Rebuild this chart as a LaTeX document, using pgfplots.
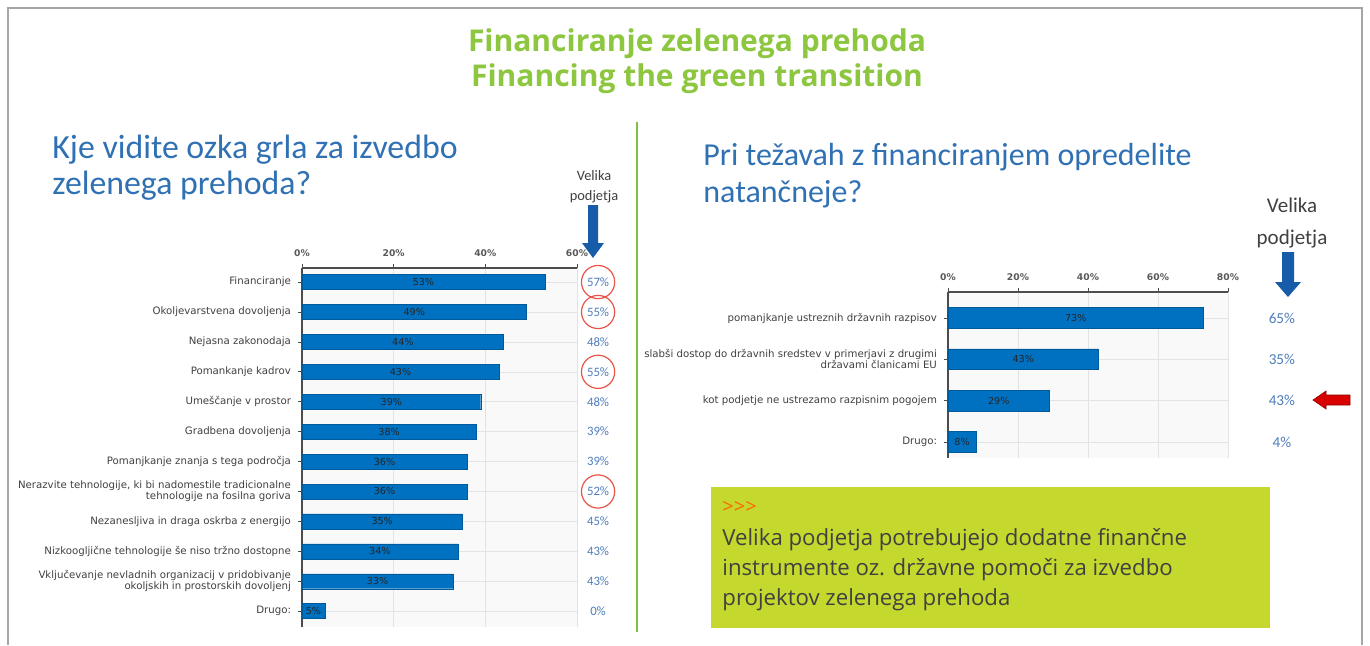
\documentclass[border=0pt]{standalone}
\usepackage{fontspec}
\setmainfont{Open Sans}
\newfontfamily\carl{Carlito}
\newfontfamily\dv{DejaVu Sans}
\usepackage{pgfplots}
\usepackage{pgfplotstable}
\pgfplotsset{compat=1.18}
\pgfplotsset{/pgf/number format/assume math mode=true}

\definecolor{barblue}{RGB}{0,112,192}
\definecolor{titlegreen}{RGB}{141,198,63}
\definecolor{qblue}{RGB}{48,113,180}
\definecolor{vpblue}{RGB}{79,126,187}
\definecolor{circred}{RGB}{232,84,72}
\definecolor{arrblue}{RGB}{22,92,168}
\definecolor{boxgreen}{RGB}{196,216,46}
\definecolor{divgreen}{RGB}{125,194,66}
\definecolor{labgray}{RGB}{64,64,64}

% left chart: pos (11 = top), share, large companies
\pgfplotstableread{
pos v big
11 53 57
10 49 55
9 44 48
8 43 55
7 39 48
6 38 39
5 36 39
4 36 52
3 35 45
2 34 43
1 33 43
0 5 0
}\lefttab

% right chart
\pgfplotstableread{
pos v big
3 73 65
2 43 35
1 29 43
0 8 4
}\righttab

\pgfplotsset{
  slide/.style={
    scale only axis, anchor=north west, clip=false,
    axis x line*=top, axis y line*=left,
    xticklabel={\pgfmathprintnumber{\tick}\%},
    xmajorgrids, ymajorgrids,
    grid style={gray!22, line width=0.3pt},
    axis line style={draw=gray!60!black, line width=0.7pt},
    tick style={draw=gray!60!black, line width=0.4pt},
    tick align=outside, major tick length=2pt,
    axis background/.style={fill=gray!5},
    ticklabel style={font=\dv\fontsize{5.1}{5.6}\selectfont, text=labgray},
    yticklabel style={align=right},
    xticklabel style={font=\dv\bfseries\fontsize{4.6}{5}\selectfont, text=gray!70!black},
  },
  barlab/.style={draw=none, mark=none, nodes near coords={\pgfmathprintnumber{\pgfplotspointmeta}\%},
    point meta=\thisrow{v},
    every node near coord/.style={anchor=center, font=\dv\fontsize{4.8}{5}\selectfont, text=black!85}},
  vplab/.style={draw=none, mark=none, nodes near coords={\pgfmathprintnumber{\pgfplotspointmeta}\%},
    point meta=\thisrow{big},
    every node near coord/.style={anchor=center, font=\carl\fontsize{#1}{#1}\selectfont, text=vpblue}},
}

\begin{document}
\begin{tikzpicture}
\path[use as bounding box, fill=white] (0,0) rectangle (685pt,322.5pt);

\begin{scope}[x=0.5pt, y=0.5pt]
  % frame and divider
  \draw[gray!70, line width=0.6pt] (8,0) -- (8,637) -- (1362,637) -- (1362,0);
  \draw[divgreen, line width=1.4pt] (637,13) -- (637,523);
  % titles
  \node[anchor=base, font=\bfseries\fontsize{15}{17}\selectfont, text=titlegreen] at (697,594) {Financiranje zelenega prehoda};
  \node[anchor=base, font=\bfseries\fontsize{15}{17}\selectfont, text=titlegreen] at (697,559) {Financing the green transition};
  % questions
  \node[anchor=base west, inner sep=0, font=\carl\fontsize{16.9}{18}\selectfont, text=qblue] at (52,487) {Kje vidite ozka grla za izvedbo};
  \node[anchor=base west, inner sep=0, font=\carl\fontsize{16.9}{18}\selectfont, text=qblue] at (52,451) {zelenega prehoda?};
  \node[anchor=base west, inner sep=0, font=\carl\fontsize{16}{18}\selectfont, text=qblue] at (703,480) {Pri težavah z financiranjem opredelite};
  \node[anchor=base west, inner sep=0, font=\carl\fontsize{16}{18}\selectfont, text=qblue] at (703,443) {natančneje?};
  % large companies headers
  \node[anchor=base, font=\carl\fontsize{7.2}{8}\selectfont, text=labgray] at (594,465) {Velika};
  \node[anchor=base, font=\carl\fontsize{7.2}{8}\selectfont, text=labgray] at (594,445) {podjetja};
  \node[anchor=base, font=\carl\fontsize{10.5}{12}\selectfont, text=labgray] at (1292,433) {Velika};
  \node[anchor=base, font=\carl\fontsize{10.5}{12}\selectfont, text=labgray] at (1292,401) {podjetja};
  % blue down arrows
  \fill[arrblue] (588,440) -- (598,440) -- (598,402) -- (604,402) -- (593,387) -- (582,402) -- (588,402) -- cycle;
  \fill[arrblue] (1282,393) -- (1294,393) -- (1294,363) -- (1301,363) -- (1288,348) -- (1275,363) -- (1282,363) -- cycle;
  % red arrow
  \filldraw[fill=red!85!black, draw=red!55!black, line width=0.3pt] (1350,250) -- (1326,250) -- (1326,254) -- (1313,245) -- (1326,236) -- (1326,240) -- (1350,240) -- cycle;
  % conclusion box
  \fill[boxgreen] (711,17) rectangle (1270,158);
  \node[anchor=base west, inner sep=0, font=\fontsize{10}{11}\selectfont, text=orange!80!red] at (722,132) {>{}>{}>};
  \node[anchor=base west, inner sep=0, font=\fontsize{11.1}{13}\selectfont, text=labgray] at (722,100) {Velika podjetja potrebujejo dodatne finančne};
  \node[anchor=base west, inner sep=0, font=\fontsize{11.1}{13}\selectfont, text=labgray] at (722,70) {instrumente oz. državne pomoči za izvedbo};
  \node[anchor=base west, inner sep=0, font=\fontsize{11.1}{13}\selectfont, text=labgray] at (722,40) {projektov zelenega prehoda};
\end{scope}

% left chart
\begin{axis}[slide,
  at={(151pt,188.5pt)}, width=137.5pt, height=179.5pt,
  xmin=0, xmax=60, xtick={0,20,40,60},
  ymin=-0.53, ymax=11.47, ytick={0,...,11},
  yticklabels={Drugo:,
    {Vključevanje nevladnih organizacij v pridobivanje\\okoljskih in prostorskih dovoljenj},
    Nizkoogljične tehnologije še niso tržno dostopne,
    Nezanesljiva in draga oskrba z energijo,
    {Nerazvite tehnologije, ki bi nadomestile tradicionalne\\tehnologije na fosilna goriva},
    Pomanjkanje znanja s tega področja,
    Gradbena dovoljenja,
    Umeščanje v prostor,
    Pomankanje kadrov,
    Nejasna zakonodaja,
    Okoljevarstvena dovoljenja,
    Financiranje},
]
\addplot[xbar, bar width=0.5, fill=barblue, draw=barblue!80!black, line width=0.2pt] table[x=v, y=pos] {\lefttab};
\addplot[barlab] table[x expr=\thisrow{v}/2, y=pos] {\lefttab};
\addplot[vplab=6.4] table[x expr=64.6, y=pos] {\lefttab};
\addplot[only marks, mark=o, mark size=8.3pt, circred, mark options={line width=0.6pt}] coordinates {(64.6,11) (64.6,10) (64.6,8) (64.6,4)};
\end{axis}

% right chart
\begin{axis}[slide,
  at={(474pt,176.5pt)}, width=140pt, height=83pt,
  xmin=0, xmax=80, xtick={0,20,40,60,80},
  ymin=-0.39, ymax=3.63, ytick={0,...,3},
  yticklabels={Drugo:,
    kot podjetje ne ustrezamo razpisnim pogojem,
    {slabši dostop do državnih sredstev v primerjavi z drugimi\\državami članicami EU},
    pomanjkanje ustreznih državnih razpisov},
]
\addplot[xbar, bar width=0.5, fill=barblue, draw=barblue!80!black, line width=0.2pt] table[x=v, y=pos] {\righttab};
\addplot[barlab] table[x expr=\thisrow{v}/2, y=pos] {\righttab};
\addplot[vplab=7.6] table[x expr=95.4, y=pos] {\righttab};
\end{axis}
\end{tikzpicture}
\end{document}
